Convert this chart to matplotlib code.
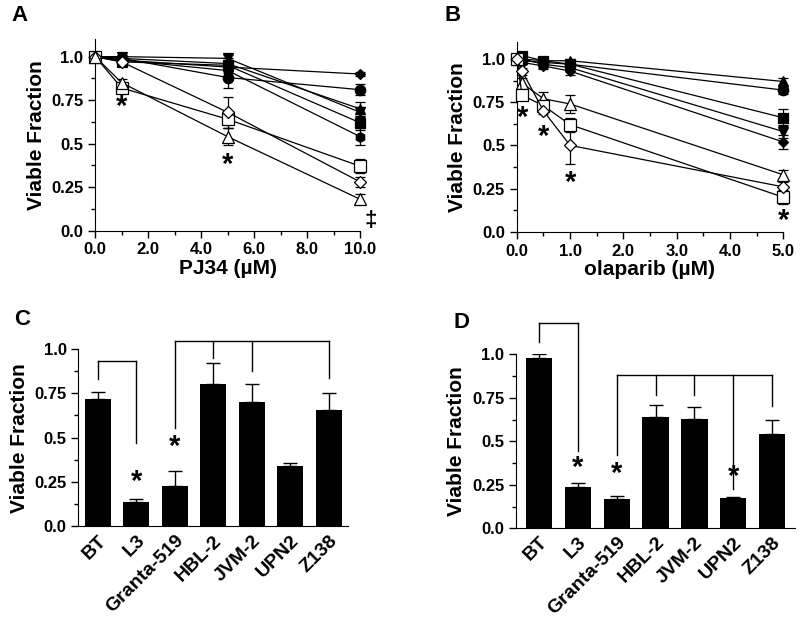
import matplotlib
matplotlib.use("Agg")
import matplotlib.pyplot as plt
from matplotlib.ticker import MultipleLocator, FixedLocator

plt.rcParams["font.family"] = ["Liberation Sans", "DejaVu Sans"]
plt.rcParams["font.weight"] = "bold"
plt.rcParams["axes.labelweight"] = "bold"

# ---- panel A: PJ34 dose response ----
pj34_dose = [0, 1, 5, 10]
pj34_fill_diamond = [1.0, 0.98, 0.94, 0.90]
pj34_fill_circle = [1.0, 0.99, 0.88, 0.81]
pj34_fill_up = [1.0, 0.99, 0.96, 0.70]
pj34_fill_down = [1.0, 1.0, 0.99, 0.68]
pj34_fill_square = [1.0, 0.97, 0.95, 0.62]
pj34_fill_hex = [1.0, 0.98, 0.92, 0.54]
pj34_open_square = [1.0, 0.82, 0.64, 0.37]
pj34_open_diamond = [1.0, 0.97, 0.68, 0.28]
pj34_open_up = [1.0, 0.85, 0.54, 0.18]
pj34_err_fill_diamond = [0, 0.01, 0.02, 0.01]
pj34_err_fill_circle = [0, 0.01, 0.06, 0.03]
pj34_err_fill_up = [0, 0.01, 0.03, 0.04]
pj34_err_fill_down = [0, 0.01, 0.02, 0.03]
pj34_err_fill_square = [0, 0.01, 0.03, 0.04]
pj34_err_fill_hex = [0, 0.01, 0.03, 0.05]
pj34_err_open_square = [0, 0.02, 0.05, 0.04]
pj34_err_open_diamond = [0, 0.01, 0.09, 0.03]
pj34_err_open_up = [0, 0.02, 0.05, 0.03]

# ---- panel B: olaparib dose response ----
ola_dose = [0, 0.1, 0.5, 1, 5]
ola_fill_up = [1.0, 1.0, 0.99, 0.99, 0.87]
ola_fill_circle = [1.0, 0.99, 0.98, 0.97, 0.82]
ola_fill_square = [1.0, 1.02, 0.99, 0.97, 0.66]
ola_fill_down = [1.0, 1.0, 0.97, 0.95, 0.58]
ola_fill_diamond = [1.0, 0.98, 0.96, 0.93, 0.52]
ola_open_up = [1.0, 0.86, 0.77, 0.74, 0.33]
ola_open_square = [1.0, 0.79, 0.73, 0.62, 0.20]
ola_open_diamond = [1.0, 0.93, 0.70, 0.50, 0.26]
ola_err_fill_up = [0, 0.01, 0.01, 0.01, 0.02]
ola_err_fill_circle = [0, 0.01, 0.01, 0.01, 0.02]
ola_err_fill_square = [0, 0.02, 0.02, 0.02, 0.05]
ola_err_fill_down = [0, 0.01, 0.02, 0.02, 0.04]
ola_err_fill_diamond = [0, 0.01, 0.02, 0.02, 0.04]
ola_err_open_up = [0, 0.03, 0.04, 0.05, 0.03]
ola_err_open_square = [0, 0.03, 0.03, 0.04, 0.04]
ola_err_open_diamond = [0, 0.02, 0.02, 0.11, 0.03]

# ---- panels C/D: cell lines ----
cell_lines = ["BT", "L3", "Granta-519", "HBL-2", "JVM-2", "UPN2", "Z138"]
pj34_viable = [0.72, 0.135, 0.23, 0.80, 0.70, 0.34, 0.655]
pj34_sem = [0.035, 0.018, 0.085, 0.12, 0.105, 0.02, 0.095]
ola_viable = [0.98, 0.24, 0.17, 0.64, 0.63, 0.175, 0.545]
ola_sem = [0.02, 0.018, 0.015, 0.067, 0.07, 0.007, 0.08]

# significance brackets: (columns, top, leg ends)
c_brackets = [([0, 1], 0.93, [0.83, 0.47]),
              ([2, 3, 4, 6], 1.045, [0.555, 0.95, 0.875, 0.835])]
d_brackets = [([0, 1], 1.18, [1.07, 0.445]),
              ([2, 3, 4, 5, 6], 0.88, [0.42, 0.765, 0.765, 0.225, 0.705])]
c_stars = ([1, 2], [0.25, 0.45])
d_stars = ([1, 2, 5], [0.35, 0.31, 0.295])

TICK_FS = 12
LABEL_FS = 15


def style_axes(ax):
    ax.spines["top"].set_visible(False)
    ax.spines["right"].set_visible(False)
    ax.tick_params(which="major", direction="out", length=5, width=1,
                   labelsize=TICK_FS)
    ax.tick_params(which="minor", direction="out", length=3, width=1)
    ax.set_ylabel("Viable Fraction", fontsize=LABEL_FS, fontweight="bold")
    ax.yaxis.set_major_locator(FixedLocator([0, 0.25, 0.5, 0.75, 1.0]))
    ax.set_yticklabels(["0.0", "0.25", "0.5", "0.75", "1.0"])
    ax.yaxis.set_minor_locator(MultipleLocator(0.125))


def star(ax, x, y, fs=21):
    ax.text(x, y, "*", ha="center", va="center", fontsize=fs,
            fontweight="bold", clip_on=False)


def dose_panel(ax, dose, series):
    for vals, err, marker, filled, ms in series:
        ax.errorbar(dose, vals, yerr=err, color="black", lw=0.9,
                    marker=marker, ms=ms, mec="black", mew=0.9,
                    mfc="black" if filled else "white",
                    capsize=3.5, capthick=0.9, elinewidth=0.9,
                    clip_on=False, zorder=3)
    ax.set_ylim(0, 1.1)
    style_axes(ax)


def bar_panel(ax, vals, sem, brackets, stars, xpad):
    x = range(len(cell_lines))
    ax.bar(x, vals, width=0.68, color="black", zorder=2)
    ax.errorbar(x, vals, yerr=[[0] * len(sem), sem], fmt="none",
                ecolor="black", elinewidth=1, capsize=5, capthick=1)
    for cols, top, ends in brackets:
        ax.plot([cols[0], cols[-1]], [top, top], color="black", lw=1,
                clip_on=False)
        for c, e in zip(cols, ends):
            ax.plot([c, c], [top, e], color="black", lw=1, clip_on=False)
    for c, y in zip(*stars):
        star(ax, c, y)
    ax.set_xlim(-xpad, len(cell_lines) - 1 + xpad)
    ax.set_ylim(0, 1.0)
    style_axes(ax)
    ax.set_xticks(list(x))
    ax.set_xticklabels(cell_lines, rotation=45, ha="right",
                       rotation_mode="anchor", fontsize=14)
    ax.tick_params(axis="x", length=0, pad=4)


fig = plt.figure(figsize=(8, 6.23), dpi=100)

# A
axA = fig.add_axes([0.119, 0.630, 0.331, 0.307])
dose_panel(axA, pj34_dose, [
    (pj34_fill_diamond, pj34_err_fill_diamond, "D", True, 5.5),
    (pj34_fill_circle, pj34_err_fill_circle, "o", True, 7.5),
    (pj34_fill_up, pj34_err_fill_up, "^", True, 7.5),
    (pj34_fill_down, pj34_err_fill_down, "v", True, 7.5),
    (pj34_fill_square, pj34_err_fill_square, "s", True, 7.5),
    (pj34_fill_hex, pj34_err_fill_hex, "h", True, 7),
    (pj34_open_square, pj34_err_open_square, "s", False, 8.5),
    (pj34_open_diamond, pj34_err_open_diamond, "D", False, 6.5),
    (pj34_open_up, pj34_err_open_up, "^", False, 8.5),
])
axA.set_xlim(0, 10)
axA.xaxis.set_major_locator(MultipleLocator(2))
axA.xaxis.set_minor_locator(MultipleLocator(1))
axA.xaxis.set_major_formatter(lambda v, p: f"{v:.1f}")
axA.set_xlabel("PJ34 (\u00b5M)", fontsize=LABEL_FS, fontweight="bold",
               labelpad=1)
star(axA, 1, 0.71)
star(axA, 5, 0.38)
axA.text(10.4, 0.06, "\u2021", ha="center", va="center", fontsize=16,
         fontweight="bold", clip_on=False)

# B
axB = fig.add_axes([0.646, 0.628, 0.333, 0.305])
dose_panel(axB, ola_dose, [
    (ola_fill_up, ola_err_fill_up, "^", True, 7.5),
    (ola_fill_circle, ola_err_fill_circle, "o", True, 7.5),
    (ola_fill_square, ola_err_fill_square, "s", True, 7.5),
    (ola_fill_down, ola_err_fill_down, "v", True, 7.5),
    (ola_fill_diamond, ola_err_fill_diamond, "D", True, 5.5),
    (ola_open_up, ola_err_open_up, "^", False, 8.5),
    (ola_open_square, ola_err_open_square, "s", False, 8.5),
    (ola_open_diamond, ola_err_open_diamond, "D", False, 6.5),
])
axB.set_xlim(0, 5)
axB.xaxis.set_major_locator(MultipleLocator(1))
axB.xaxis.set_minor_locator(MultipleLocator(0.5))
axB.xaxis.set_major_formatter(lambda v, p: f"{v:.1f}")
axB.set_xlabel("olaparib (\u00b5M)", fontsize=LABEL_FS, fontweight="bold",
               labelpad=1)
star(axB, 0.1, 0.66)
star(axB, 0.5, 0.55)
star(axB, 1.0, 0.28)
star(axB, 5.0, 0.06)

# C
axC = fig.add_axes([0.098, 0.155, 0.337, 0.285])
bar_panel(axC, pj34_viable, pj34_sem, c_brackets, c_stars, 0.5)

# D
axD = fig.add_axes([0.645, 0.152, 0.349, 0.279])
bar_panel(axD, ola_viable, ola_sem, d_brackets, d_stars, 0.6)

for lab, x, y in [("A", 0.025, 0.975), ("B", 0.566, 0.975),
                  ("C", 0.028, 0.487), ("D", 0.577, 0.482)]:
    fig.text(x, y, lab, fontsize=16, fontweight="bold", ha="center",
             va="center")

fig.savefig("out.png", dpi=100)
